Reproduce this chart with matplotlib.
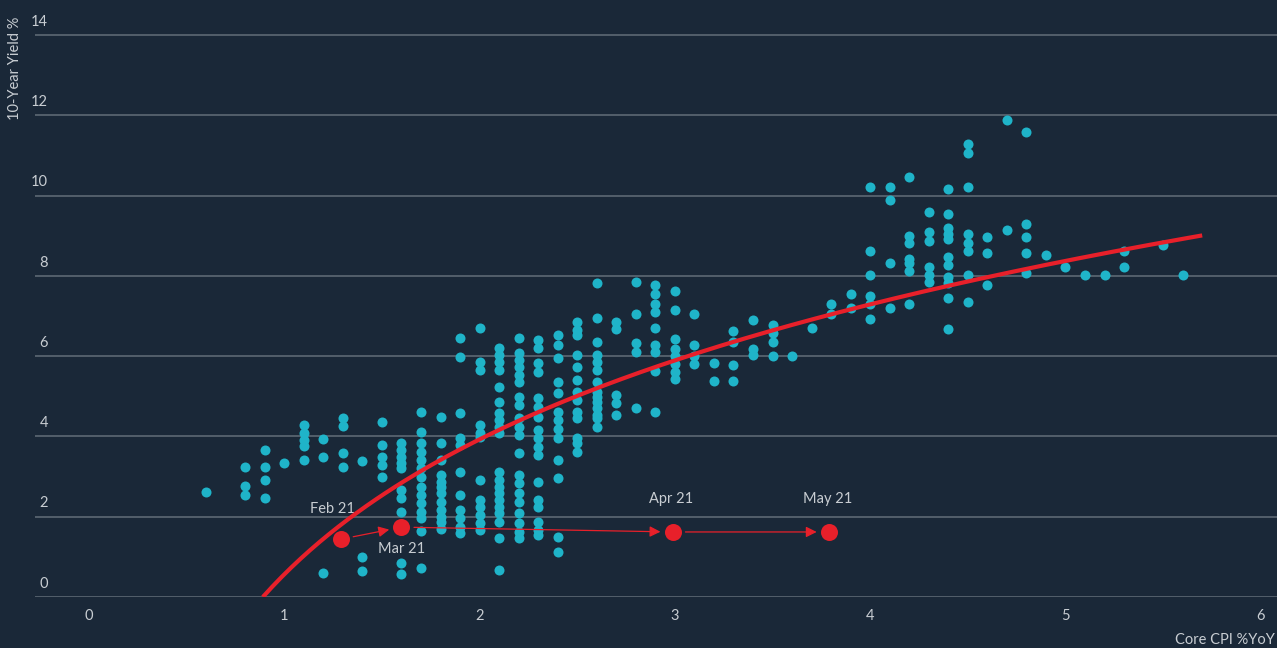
import numpy as np
import matplotlib.pyplot as plt
from matplotlib import transforms

plt.rcParams['font.family'] = ['Lato', 'DejaVu Sans']

# Core CPI columns (x) and the 10-year yields read in each column
cpi_cols = [0.6, 0.8, 0.9, 1.0, 1.1, 1.2, 1.3, 1.4, 1.5, 1.6, 1.7, 1.8, 1.9, 2.0,
            2.1, 2.2, 2.3, 2.4, 2.5, 2.6, 2.7, 2.8, 2.9, 3.0, 3.1, 3.2, 3.3, 3.4,
            3.5, 3.6, 3.7, 3.8, 3.9, 4.0, 4.1, 4.2, 4.3, 4.4, 4.5, 4.6, 4.7, 4.8,
            4.9, 5.0, 5.1, 5.2, 5.3, 5.5, 5.6]
yield_cols = [
    [2.61],
    [3.23, 2.76, 2.54],
    [3.66, 3.23, 2.91, 2.46],
    [3.33],
    [4.28, 4.08, 3.91, 3.76, 3.41],
    [3.93, 3.48, 0.60],
    [4.45, 4.25, 3.58, 3.23],
    [3.38, 1.00, 0.65],
    [4.35, 3.78, 3.48, 3.28, 2.99],
    [3.83, 3.66, 3.48, 3.33, 3.21, 2.66, 2.46, 2.11, 0.85, 0.57],
    [4.60, 4.10, 3.83, 3.61, 3.41, 3.21, 2.99, 2.74, 2.54, 2.34, 2.11, 1.97, 1.64, 0.72],
    [4.48, 3.83, 3.41, 3.03, 2.86, 2.74, 2.59, 2.36, 2.16, 1.99, 1.87, 1.69],
    [6.44, 5.97, 4.58, 3.96, 3.78, 3.11, 2.54, 2.16, 1.97, 1.74, 1.59],
    [6.69, 5.85, 5.65, 4.28, 4.08, 3.98, 2.91, 2.41, 2.24, 2.04, 1.84, 1.67],
    [6.19, 6.02, 5.85, 5.65, 5.22, 4.85, 4.58, 4.40, 4.23, 4.08, 3.11, 2.91, 2.74,
     2.59, 2.41, 2.24, 2.09, 1.87, 1.47, 0.67],
    [6.44, 6.07, 5.90, 5.72, 5.52, 5.35, 4.98, 4.78, 4.45, 4.23, 4.03, 3.58, 3.03,
     2.84, 2.59, 2.36, 2.09, 1.84, 1.62, 1.47],
    [6.39, 6.19, 5.82, 5.60, 4.95, 4.73, 4.48, 4.15, 3.96, 3.73, 3.53, 2.86, 2.41,
     2.24, 1.87, 1.67, 1.54],
    [6.52, 6.27, 5.95, 5.35, 5.07, 4.60, 4.40, 4.18, 3.96, 3.41, 2.96, 1.49, 1.12],
    [6.84, 6.64, 6.52, 6.02, 5.72, 5.40, 5.10, 4.90, 4.60, 4.45, 3.96, 3.83, 3.61],
    [7.81, 6.94, 6.34, 6.02, 5.85, 5.65, 5.35, 5.10, 4.98, 4.85, 4.70, 4.53, 4.45, 4.23],
    [6.84, 6.67, 5.02, 4.83, 4.53],
    [7.84, 7.04, 6.32, 6.09, 4.70],
    [7.76, 7.54, 7.29, 7.09, 6.69, 6.27, 6.09, 5.62, 4.60],
    [7.61, 7.14, 6.42, 6.17, 6.00, 5.80, 5.60, 5.42],
    [7.04, 6.27, 6.00, 5.80],
    [5.82, 5.37],
    [6.62, 6.34, 5.77, 5.37],
    [6.89, 6.17, 6.02],
    [6.77, 6.57, 6.34, 6.00],
    [6.00],
    [6.69],
    [7.29, 7.06],
    [7.54, 7.21],
    [10.20, 8.61, 8.01, 7.49, 7.29, 6.92],
    [10.20, 9.90, 8.33, 7.21],
    [10.47, 9.00, 8.81, 8.43, 8.31, 8.11, 7.29],
    [9.60, 9.08, 8.86, 8.23, 8.01, 7.84],
    [10.15, 9.53, 9.18, 9.05, 8.91, 8.46, 8.26, 7.96, 7.81, 7.44, 6.67],
    [11.29, 11.07, 10.20, 9.05, 8.81, 8.61, 8.03, 7.36],
    [8.96, 8.56, 7.76],
    [11.87, 9.15],
    [11.57, 9.28, 8.96, 8.56, 8.08],
    [8.51],
    [8.21],
    [8.01],
    [8.01],
    [8.61, 8.23],
    [8.78],
    [8.01],
]

# 2021 readings
months = ["Feb 21", "Mar 21", "Apr 21", "May 21"]
month_cpi = [1.29, 1.60, 2.99, 3.79]
month_yield = [1.44, 1.74, 1.62, 1.62]
label_offsets = [(-6, 22), (0, -16), (-1, 24), (-1, 24)]  # points

# log trend line as drawn on the chart: yield = a + b*ln(cpi)
trend_a = 0.565
trend_b = 4.85
trend_end = 5.7

xticks = [0, 1, 2, 3, 4, 5, 6]
yticks = [0, 2, 4, 6, 8, 10, 12, 14]

bg = "#1a2838"
teal = "#1fb4c9"
red = "#e8202a"
grid_c = "#5d6873"
txt_c = "#c8cdd2"

cpi = np.concatenate([[c] * len(v) for c, v in zip(cpi_cols, yield_cols)])
yld = np.concatenate(yield_cols)

x_start = np.exp(-trend_a / trend_b)
xs = np.linspace(x_start, trend_end, 200)
ys = trend_a + trend_b * np.log(xs)

fig = plt.figure(figsize=(12.77, 6.48), dpi=100, facecolor=bg)
ax = fig.add_axes([35 / 1277, 51 / 648, 1 - 35 / 1277, 1 - 51 / 648])
ax.set_facecolor(bg)

ax.scatter(cpi, yld, s=52, color=teal, linewidths=0, zorder=3)
ax.plot(xs, ys, color=red, lw=3, zorder=4, solid_capstyle='butt')

ax.scatter(month_cpi, month_yield, s=150, color=red, linewidths=0, zorder=6)
for i in range(len(months) - 1):
    ax.annotate("", xy=(month_cpi[i + 1], month_yield[i + 1]),
                xytext=(month_cpi[i], month_yield[i]),
                arrowprops=dict(arrowstyle='-|>', color=red, lw=0.9,
                                mutation_scale=16, shrinkA=9, shrinkB=9),
                zorder=5)
for m, x, y, off in zip(months, month_cpi, month_yield, label_offsets):
    ax.annotate(m, (x, y), xytext=off, textcoords='offset points',
                ha='center', va='center', color=txt_c, fontsize=10.5)

ax.set_xlim(-0.2765, 6.083)
ax.set_ylim(0, 14.87)
ax.set_yticks(yticks)
ax.set_yticklabels([])
ax.set_xticks(xticks)
ax.set_xticklabels([str(t) for t in xticks], color=txt_c, fontsize=10.5)
ax.tick_params(axis='both', length=0)
ax.tick_params(axis='x', pad=9)
ax.grid(axis='y', color=grid_c, lw=1.2)
ax.set_axisbelow(True)
for s in ax.spines.values():
    s.set_visible(False)

trans = transforms.blended_transform_factory(ax.transAxes, ax.transData)
for t in yticks:
    ax.text(13 / 1242, t + 0.33, str(t), transform=trans, ha='right',
            va='center', color=txt_c, fontsize=10.5)

fig.text(15 / 1277, 1 - 17 / 648, "10-Year Yield %", rotation=90, ha='center',
         va='top', color=txt_c, fontsize=10.5)
fig.text(1275 / 1277, 1 - 640 / 648, "Core CPI %YoY", ha='right', va='center',
         color=txt_c, fontsize=10.5)

fig.savefig("out.png", dpi=100, facecolor=bg)
